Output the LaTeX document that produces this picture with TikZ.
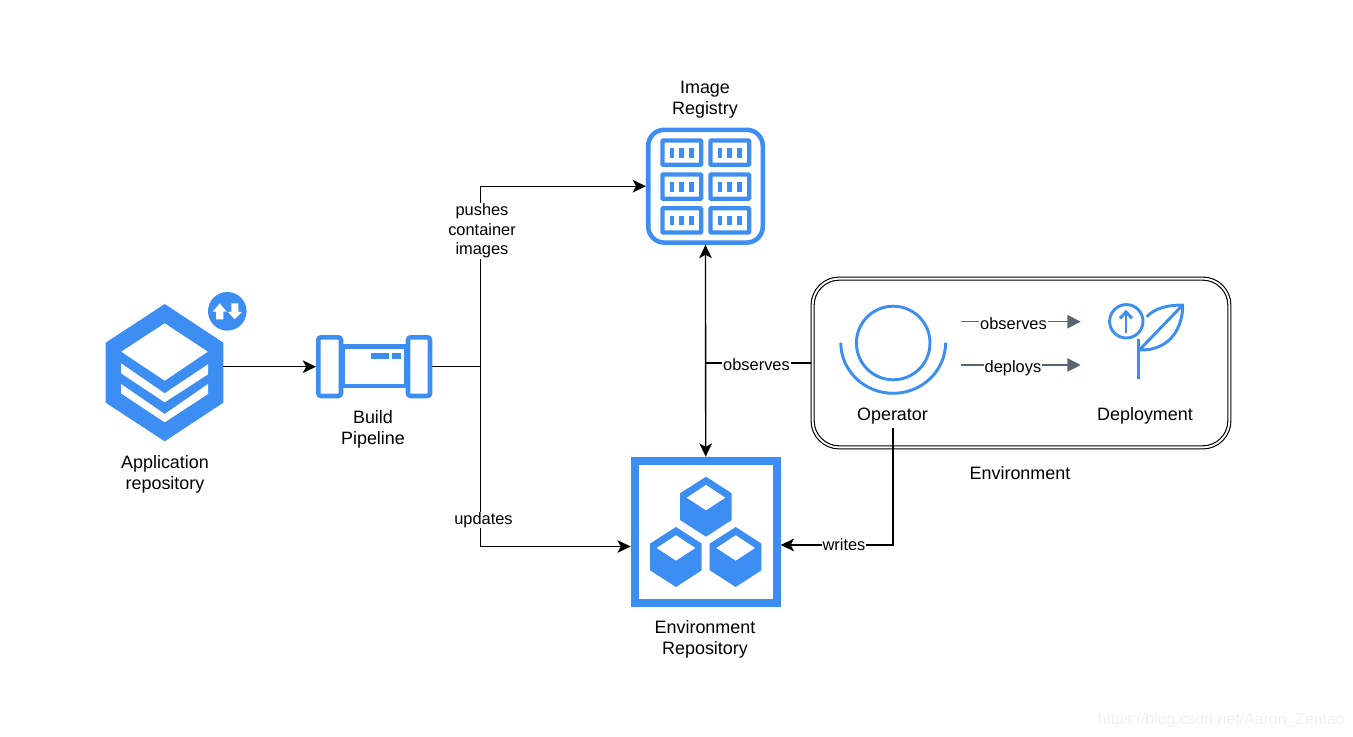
\documentclass[tikz,border=0pt]{standalone}
\usepackage{fontspec}
\setmainfont{Liberation Sans}
\usetikzlibrary{arrows.meta}
\definecolor{iconblue}{HTML}{3D8EF3}
\definecolor{flowgray}{HTML}{5A6370}
\tikzset{
  blacktip/.tip={Stealth[length=10pt,width=9.5pt,inset=2.6pt]},
  graytip/.tip={Triangle[length=10pt,width=10pt]},
  flow/.style={draw=black,line width=1pt},
  opflow/.style={draw=flowgray,line width=1pt},
  caption/.style={font=\fontsize{13.45}{15.75}\selectfont,align=center,inner sep=1pt},
  lbl/.style={font=\fontsize{12.3}{14.6}\selectfont,align=center,fill=white,inner sep=0.6pt},
  iconbox/.style={inner sep=0pt,outer sep=0pt},
  blueline/.style={draw=iconblue,line width=2.2pt},
}
\begin{document}
\begin{tikzpicture}[x=0.75pt,y=-0.75pt]
\useasboundingbox (0,0) rectangle (1353,737);

% --- Application repository icon
\node[iconbox,minimum width=88.2pt,minimum height=111.9pt] (app) at (164.5,366.7) {};
\fill[iconblue] (164.7,304) -- (223.3,342.7) -- (223.3,402.7) -- (164.7,441.3) -- (105.7,402.7) -- (105.7,342.7) -- cycle;
\fill[white] (121.3,351.7) -- (164.7,323.3) -- (207.7,351.7) -- (164.7,380.7) -- cycle;
\fill[white] (121,363.3) -- (164.7,393.3) -- (208,364.3) -- (208,374.3) -- (164.7,402.3) -- (121,373.3) -- cycle;
\fill[white] (121,384) -- (164.7,414) -- (208,384) -- (208,394) -- (164.7,422.3) -- (121,393.3) -- cycle;
\fill[iconblue] (227.3,311.3) circle[radius=19.3];
\fill[white] (219.7,303.3) -- (226.7,311.7) -- (223.3,311.7) -- (223.3,319.3) -- (216,319.3) -- (216,311.7) -- (212.7,311.7) -- cycle;
\fill[white] (234.7,319.3) -- (242,312) -- (238.3,312) -- (238.3,303.3) -- (231.3,303.3) -- (231.3,312) -- (228,312) -- cycle;

% --- Build pipeline icon
\node[iconbox,minimum width=87.2pt,minimum height=47.5pt] (build) at (374.2,366.7) {};
\draw[draw=iconblue,line width=3.4pt] (343,346.6) rectangle (406,386);
\draw[draw=iconblue,line width=3.4pt,fill=white,rounded corners=2pt] (318.3,337.3) rectangle (341,396);
\draw[draw=iconblue,line width=3.4pt,fill=white,rounded corners=2pt] (408,337.3) rectangle (430,396);
\fill[iconblue] (371.3,353.3) rectangle (388.7,358.7);
\fill[iconblue] (392.3,353.3) rectangle (400.7,358.7);

% --- Image registry icon
\node[iconbox,draw=iconblue,line width=3.4pt,rounded corners=12pt,outer sep=1.7pt,minimum width=85.9pt,minimum height=84.6pt] (reg) at (705.5,186.2) {};
\foreach \cx in {660.3,708.3}{
  \foreach \cy in {138.3,172.3,206}{
    \draw[draw=iconblue,line width=3.2pt,rounded corners=0.6pt] (\cx+2.15,\cy+2.15) rectangle (\cx+40.85,\cy+26.5);
    \foreach \bx in {9.4,19,28.7}{
      \fill[iconblue] (\cx+\bx,\cy+10) rectangle +(4.7,9.4);
    }
  }
}

% --- Environment repository icon
\node[iconbox,draw=iconblue,line width=6pt,outer sep=3pt,minimum width=106.5pt,minimum height=106.5pt] (repo) at (705.7,531.7) {};
\foreach \ox/\oy in {0/0,-30/50.3,29.7/50.3}{
  \fill[iconblue] (706+\ox,476.7+\oy) -- (731.7+\ox,493.3+\oy) -- (731.7+\ox,520+\oy) -- (706+\ox,536.7+\oy) -- (680+\ox,520+\oy) -- (680+\ox,493.3+\oy) -- cycle;
  \fill[white] (686.7+\ox,497.7+\oy) -- (706+\ox,485+\oy) -- (725.3+\ox,497.7+\oy) -- (706+\ox,510.3+\oy) -- cycle;
}

% --- Environment frame
\node[iconbox,draw=black,line width=0.85pt,double=white,double distance=1.4pt,rounded corners=20pt,outer sep=1.5pt,minimum width=312.6pt,minimum height=126.6pt] (env) at (1021,363) {};

% --- Operator icon
\node[iconbox,minimum width=57pt,minimum height=57pt] (opicon) at (893.2,343) {};
\draw[blueline] (opicon) circle[radius=36.8];
\draw[blueline] (840.8,342.7) arc[start angle=180,end angle=0,x radius=52.4,y radius=50.6];

% --- Deployment icon
\node[iconbox,minimum width=25pt,minimum height=25pt] (depicon) at (1126.3,321.3) {};
\draw[blueline] (depicon) circle[radius=16.7];
\draw[blueline] (1126,332.7) -- (1126,312.5);
\draw[blueline] (1120,318.3) -- (1126,312) -- (1132,318.3);
\draw[blueline] (1138.3,339) -- (1138.3,378.7);
\draw[blueline,line join=round] (1146.7,316.7) .. controls (1155,308) and (1168,305) .. (1182.7,305) .. controls (1183,325) and (1172,351) .. (1139.3,350) -- (1182.7,305);

% --- Captions
\node[caption] (appcap) at (165,474.5) {Application\\repository};
\node[caption] (buildcap) at (373,429.5) {Build\\Pipeline};
\node[caption] (regcap) at (705,99.5) {Image\\Registry};
\node[caption] (repocap) at (705,639.5) {Environment\\Repository};
\node[caption,inner sep=2.5pt] (opcap) at (892.5,416) {Operator};
\node[caption] (depcap) at (1145,416) {Deployment};
\node[caption] (envcap) at (1020,473) {Environment};

% --- Connectors
\coordinate (junction) at (480.7,366.7);
\coordinate (repoleft) at (630.7,546.5);
\coordinate (reporight) at (780.7,545);
\coordinate (writecorner) at (893,545);

\draw[flow,-blacktip] (app.east) -- (build.west);
\draw[flow] (build.east) -- (junction);
\draw[flow,-blacktip] (junction) |- (reg.west);
\draw[flow,-blacktip] (junction) |- (repoleft);
\draw[flow,blacktip-blacktip] (reg.south) -- (repo.north);
\draw[flow] (env.west) -- (env.west -| reg.south);
\draw[flow,-blacktip] (opcap.south -| writecorner) -- (writecorner) -- (reporight);

\coordinate (obsstart) at (960.7,321.7);
\coordinate (obsend) at (1080.7,321.7);
\coordinate (depstart) at (960.7,365);
\coordinate (depend) at (1080.7,365);
\draw[opflow,-graytip] (obsstart) -- (obsend);
\draw[opflow,-graytip] (depstart) -- (depend);

% --- Connector labels
\node[lbl] (pushlbl) at (482,231) {pushes\\container\\images};
\node[lbl] (updlbl) at (483.5,520) {updates};
\node[lbl] (obslbl) at (756.5,364.5) {observes};
\node[lbl] (wrlbl) at (844,545) {writes};
\node[lbl] (obs2lbl) at (1013.5,324) {observes};
\node[lbl] (dep2lbl) at (1013,368) {deploys};

% --- Watermark
\node[font=\fontsize{11.9}{14}\selectfont,text=black!6,inner sep=0pt,anchor=east] (mark) at (1345,720) {https://blog.csdn.net/Aaron\_Zentao};
\end{tikzpicture}
\end{document}
